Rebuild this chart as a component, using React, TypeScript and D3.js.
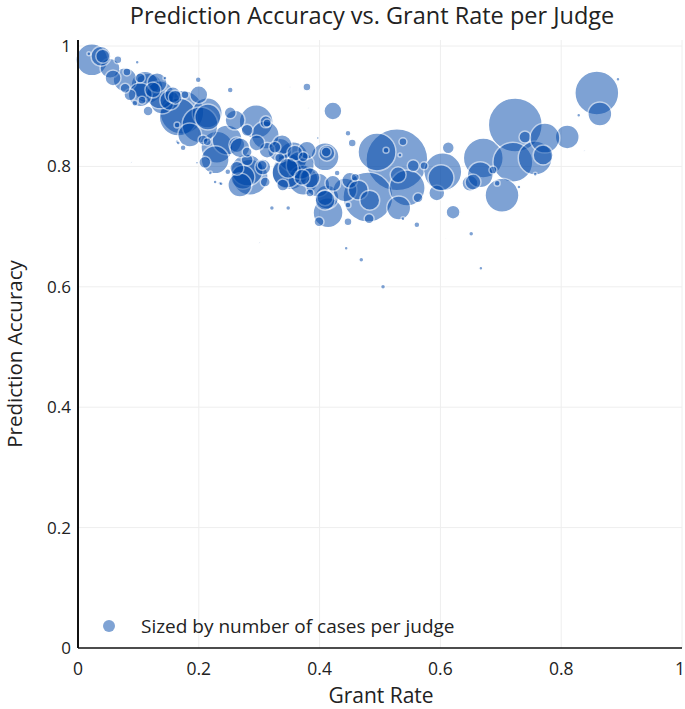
import React from "react";
import * as d3 from "d3";

// grant rate per judge
const grantRate: number[] = [
  0.023, 0.172, 0.166, 0.295, 0.230, 0.285, 0.351, 0.356, 0.528, 0.480,
  0.495, 0.604, 0.545, 0.671, 0.724, 0.720, 0.702, 0.859, 0.373, 0.414,
  0.116, 0.111, 0.214, 0.247, 0.280, 0.346, 0.334, 0.412, 0.757, 0.810,
  0.409, 0.139, 0.273, 0.531, 0.202, 0.136, 0.227, 0.310, 0.268, 0.078,
  0.103, 0.053, 0.185, 0.368, 0.442, 0.397, 0.260, 0.152,
  0.131, 0.338, 0.384, 0.422, 0.379, 0.058,
  0.263, 0.124, 0.313, 0.296, 0.450, 0.422, 0.594, 0.649, 0.409, 0.252,
  0.311, 0.326, 0.280, 0.339, 0.613, 0.621, 0.086, 0.078, 0.106, 0.210,
  0.038, 0.041, 0.157, 0.200, 0.215, 0.268, 0.263, 0.306, 0.280, 0.280,
  0.305, 0.334, 0.359, 0.412, 0.348, 0.371, 0.409, 0.464, 0.483, 0.459,
  0.538, 0.510, 0.555, 0.573, 0.601, 0.563, 0.530, 0.666, 0.654, 0.687,
  0.694, 0.740, 0.773, 0.770, 0.864, 0.103, 0.116, 0.161, 0.164, 0.207,
  0.411, 0.018, 0.066, 0.081, 0.098, 0.094, 0.144, 0.177, 0.252, 0.313,
  0.214, 0.248, 0.174, 0.164, 0.235, 0.219, 0.310, 0.321, 0.348, 0.429,
  0.447, 0.454, 0.533, 0.384, 0.373, 0.447, 0.482, 0.447, 0.399, 0.538,
  0.561, 0.651, 0.444, 0.469, 0.505, 0.667, 0.300, 0.608, 0.894, 0.829,
  0.838, 0.757, 0.730, 0.351, 0.397, 0.381, 0.199, 0.166, 0.197, 0.227,
  0.237, 0.089, 0.379,
];

// prediction accuracy per judge
const accuracy: number[] = [
  0.977, 0.890, 0.882, 0.874, 0.832, 0.782, 0.791, 0.816, 0.811, 0.749,
  0.824, 0.791, 0.764, 0.814, 0.869, 0.807, 0.752, 0.922, 0.777, 0.723,
  0.930, 0.935, 0.889, 0.844, 0.794, 0.789, 0.827, 0.749, 0.814, 0.849,
  0.816, 0.907, 0.782, 0.731, 0.869, 0.919, 0.811, 0.852, 0.769, 0.944,
  0.919, 0.963, 0.852, 0.802, 0.761, 0.769, 0.877, 0.910,
  0.939, 0.836, 0.781, 0.892, 0.827, 0.947,
  0.836, 0.927, 0.827, 0.839, 0.777, 0.772, 0.756, 0.772, 0.748, 0.889,
  0.874, 0.832, 0.811, 0.769, 0.831, 0.724, 0.919, 0.930, 0.910, 0.807,
  0.983, 0.983, 0.919, 0.919, 0.882, 0.831, 0.797, 0.799, 0.860, 0.824,
  0.802, 0.814, 0.822, 0.822, 0.797, 0.782, 0.744, 0.761, 0.744, 0.782,
  0.841, 0.827, 0.801, 0.801, 0.781, 0.748, 0.786, 0.786, 0.774, 0.794,
  0.772, 0.849, 0.847, 0.819, 0.887, 0.947, 0.892, 0.915, 0.869, 0.844,
  0.824, 0.987, 0.977, 0.957, 0.973, 0.905, 0.947, 0.919, 0.927, 0.872,
  0.841, 0.791, 0.831, 0.841, 0.772, 0.789, 0.774, 0.731, 0.731, 0.789,
  0.855, 0.839, 0.819, 0.756, 0.816, 0.736, 0.713, 0.708, 0.708, 0.713,
  0.703, 0.688, 0.664, 0.645, 0.600, 0.631, 0.674, 0.681, 0.945, 0.885,
  0.827, 0.787, 0.766, 0.932, 0.847, 0.897, 0.944, 0.839, 0.806, 0.774,
  0.771, 0.806, 0.932,
];

// number of cases per judge (marker size)
const cases: number[] = [
  1024, 1936, 1444, 1156, 1024, 1296, 1296, 900, 3844, 2500,
  1444, 1444, 1296, 1600, 2916, 1600, 1156, 1936, 900, 900,
  900, 784, 900, 900, 1024, 900, 576, 576, 1156, 576,
  784, 576, 576, 576, 1296, 784, 784, 784, 576, 576,
  576, 400, 576, 784, 576, 576, 400, 400,
  400, 400, 400, 324, 324, 256,
  256, 256, 256, 256, 256, 256, 256, 256, 256, 144,
  144, 144, 144, 144, 144, 196, 144, 100, 64, 144,
  400, 196, 256, 324, 676, 400, 196, 256, 144, 100,
  100, 100, 256, 256, 400, 256, 400, 400, 400, 64,
  64, 36, 144, 64, 676, 100, 256, 676, 256, 64,
  36, 144, 900, 400, 576, 100, 100, 196, 36, 100,
  100, 16, 64, 64, 16, 36, 16, 64, 36, 64,
  64, 36, 36, 16, 16, 16, 100, 25, 25, 36,
  36, 64, 16, 64, 100, 36, 100, 64, 100, 16,
  36, 25, 16, 25, 25, 16, 4, 3, 16, 16,
  4, 16, 16, 4, 9, 4, 36, 16, 9, 16,
  16, 4, 64,
];

const xTicks = [0, 0.2, 0.4, 0.6, 0.8, 1];
const yTicks = [0, 0.2, 0.4, 0.6, 0.8, 1];

const W = 685;
const H = 709;
const left = 78;
const right = 682;
const top = 40;
const bottom = 648;
const FONT = "'Open Sans', 'Noto Sans', sans-serif";

export default function App() {
  const x = d3.scaleLinear().domain([0, 1]).range([left, right]);
  const y = d3.scaleLinear().domain([0, 1.01]).range([bottom, top]);
  const r = d3.scaleSqrt().domain([0, 3600]).range([0, 30]);

  const pts = grantRate.map((g, i) => ({ g, a: accuracy[i], c: cases[i] }));

  return (
    <svg
      width={W}
      height={H}
      style={{ position: "absolute", left: 0, top: 0, fontFamily: FONT }}
    >
      <rect width={W} height={H} fill="#fff" />
      {xTicks.filter((t) => t > 0).map((t) => (
        <line key={"gx" + t} x1={x(t)} x2={x(t)} y1={top} y2={bottom} stroke="#eee" strokeWidth={1} />
      ))}
      {yTicks.filter((t) => t > 0).map((t) => (
        <line key={"gy" + t} x1={left} x2={right} y1={y(t)} y2={y(t)} stroke="#eee" strokeWidth={1} />
      ))}
      <g>
        {pts.map((p, i) => (
          <circle
            key={i}
            cx={x(p.g)}
            cy={y(p.a)}
            r={r(p.c)}
            fill="rgb(0,72,170)"
            stroke="#fff"
            strokeWidth={1.5}
            opacity={0.5}
          />
        ))}
      </g>
      <line x1={left} x2={left} y1={top} y2={bottom} stroke="#111" strokeWidth={2} />
      <line x1={left} x2={right} y1={bottom} y2={bottom} stroke="#111" strokeWidth={1.5} />
      {xTicks.map((t) => (
        <text key={"tx" + t} x={t === 1 ? x(t) - 2 : x(t)} y={675} textAnchor="middle" fontSize={17.5} fill="#222">
          {String(t)}
        </text>
      ))}
      {yTicks.map((t) => (
        <text key={"ty" + t} x={71} y={y(t) + 6} textAnchor="end" fontSize={17} fill="#222">
          {String(t)}
        </text>
      ))}
      <text x={372} y={24} textAnchor="middle" fontSize={23.5} fill="#222">
        Prediction Accuracy vs. Grant Rate per Judge
      </text>
      <text x={381} y={703} textAnchor="middle" fontSize={21} fill="#222">
        Grant Rate
      </text>
      <text
        transform={`translate(22,${354}) rotate(-90)`}
        textAnchor="middle"
        fontSize={20.5}
        fill="#222"
      >
        Prediction Accuracy
      </text>
      <circle cx={109} cy={626} r={6} fill="rgb(0,72,170)" opacity={0.5} />
      <text x={141} y={633} fontSize={19} fill="#222">
        Sized by number of cases per judge
      </text>
    </svg>
  );
}
